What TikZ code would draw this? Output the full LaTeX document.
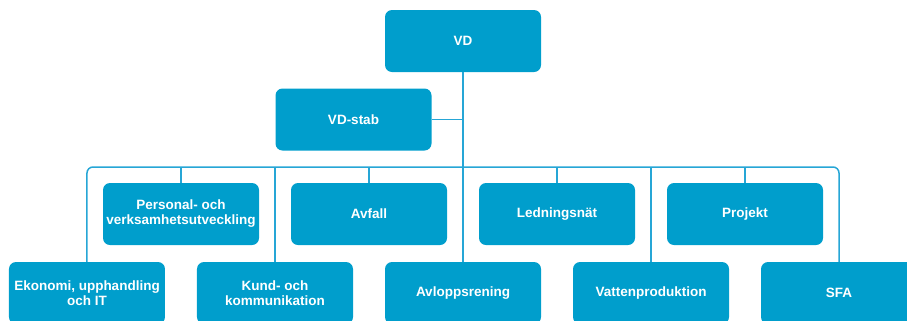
\documentclass[tikz,border=0pt]{standalone}
\usepackage{fontspec}
\setmainfont{Liberation Sans}
\definecolor{unitblue}{RGB}{0,158,204}
\definecolor{lineblue}{RGB}{38,166,214}
\tikzset{unit/.style={rectangle, rounded corners=7bp, fill=unitblue, minimum width=156bp, minimum height=62bp, inner sep=1bp, text=white, align=center, font=\fontsize{13.5bp}{15bp}\selectfont\bfseries}}
\tikzset{link/.style={draw=lineblue, line width=1.5bp}}
\usetikzlibrary{positioning}

\begin{document}
\begin{tikzpicture}[x=1bp, y=-1bp]
      \useasboundingbox (0,0) rectangle (907,320);
      \node[unit] (vd) at (463,41) {VD};
      \node[unit] (stab) at (353.5,119.5) {VD-stab};
      \coordinate[below of=vd, node distance=126bp] (aux1);
      \node[unit] (pers) at (181,214) {Personal- och\\verksamhetsutveckling};
      \node[unit, right of=pers, node distance=188bp] (avf) {Avfall};
      \node[unit, right of=avf, node distance=188bp] (led) {Ledningsnät};
      \node[unit, right of=led, node distance=188bp] (proj) {Projekt};
      \node[unit, below of=vd, node distance=252bp] (avl) {Avloppsrening};
      \node[unit, left of=avl, node distance=188bp] (kund) {Kund- och\\kommunikation};
      \node[unit, left of=kund, node distance=188bp] (eko) {Ekonomi, upphandling\\och IT};
      \node[unit, right of=avl, node distance=188bp] (vat) {Vattenproduktion};
      \node[unit, right of=vat, node distance=188bp] (sfa) {SFA};
      \draw[link] (vd) -- (avl);
      \draw[link] (stab.east) -- (stab.east -| vd);
      \draw[link, rounded corners=6bp] (eko.north) |- (aux1) -| (sfa.north);
      \draw[link] (pers.north) -- (pers.north |- aux1);
      \draw[link] (avf.north) -- (avf.north |- aux1);
      \draw[link] (led.north) -- (led.north |- aux1);
      \draw[link] (proj.north) -- (proj.north |- aux1);
      \draw[link] (kund.north) -- (kund.north |- aux1);
      \draw[link] (vat.north) -- (vat.north |- aux1);
\end{tikzpicture}
\end{document}
